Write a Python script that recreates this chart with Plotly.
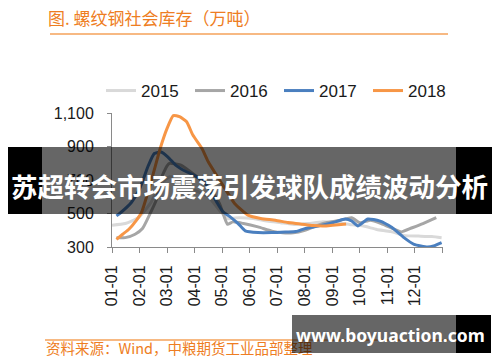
import calendar
import plotly.graph_objects as go

# ---------------- data ----------------
MONTH_LABELS = ["01-01", "02-01", "03-01", "04-01", "05-01", "06-01",
                "07-01", "08-01", "09-01", "10-01", "11-01", "12-01", ""]
Y_TICKS = [300, 500, 700, 900, 1100]
Y_TICK_TEXT = ["300", "500", "700", "900", "1,100"]

DATES_2015 = ["01-01", "01-16", "01-31", "02-12", "02-23", "03-04", "03-16", "04-01", "04-16",
              "04-28", "05-07", "05-20", "06-05", "06-20", "07-05", "07-20", "08-05", "08-20",
              "09-05", "09-20", "10-05", "10-20", "11-05", "11-20", "12-05", "12-20", "12-31"]
VALS_2015 = [430, 440, 476, 560, 680, 720, 700, 640, 600,
             520, 470, 475, 470, 455, 445, 435, 440, 450,
             445, 435, 425, 405, 392, 368, 365, 362, 355]

DATES_2016 = ["01-06", "01-16", "01-27", "02-04", "02-11", "02-18", "02-23", "03-01", "03-04",
              "03-16", "04-01", "04-16", "04-28", "05-04", "05-07", "05-13", "05-25", "06-10",
              "06-25", "07-07", "07-19", "08-01", "08-13", "08-25", "09-10", "09-22", "10-01",
              "10-13", "10-25", "11-07", "11-16", "11-28", "12-10", "12-25"]
VALS_2016 = [355, 356, 376, 410, 490, 580, 710, 785, 800,
             790, 730, 660, 560, 470, 435, 450, 440, 420,
             395, 385, 385, 400, 425, 445, 460, 475, 445,
             460, 440, 410, 390, 415, 440, 475]

DATES_2017 = ["01-06", "01-11", "01-23", "02-01", "02-10", "02-16", "02-23", "03-02", "03-11",
              "03-20", "04-01", "04-12", "04-23", "05-02", "05-10", "05-19", "05-27", "06-10",
              "06-25", "07-10", "07-22", "08-01", "08-17", "09-02", "09-15", "09-22", "09-29",
              "10-10", "10-23", "11-06", "11-19", "11-30", "12-15", "12-22", "12-31"]
VALS_2017 = [486, 506, 567, 647, 787, 858, 867, 837, 787,
             757, 727, 687, 587, 510, 480, 440, 396, 386,
             386, 390, 392, 410, 426, 446, 467, 456, 426,
             467, 456, 416, 356, 316, 300, 306, 326]

DATES_2018 = ["01-06", "01-13", "01-20", "01-28", "02-03", "02-13", "02-22", "03-01", "03-08",
              "03-15", "03-23", "03-30", "04-09", "04-16", "04-25", "05-04", "05-15", "05-30",
              "06-13", "06-29", "07-13", "07-27", "08-10", "08-25", "09-16"]
VALS_2018 = [346, 376, 406, 456, 506, 697, 888, 1008, 1084,
             1078, 1048, 968, 888, 807, 727, 650, 560, 490,
             470, 460, 446, 438, 428, 426, 437]

SERIES = [("2015", DATES_2015, VALS_2015, "#D9D9D9"),
          ("2016", DATES_2016, VALS_2016, "#A6A6A6"),
          ("2017", DATES_2017, VALS_2017, "#4A7FBF"),
          ("2018", DATES_2018, VALS_2018, "#F79646")]

TITLE = "图. 螺纹钢社会库存（万吨）"
SOURCE = "资料来源：Wind，中粮期货工业品部整理"
BANNER = "苏超转会市场震荡引发球队成绩波动分析"
WATERMARK = "www.boyuaction.com"


def month_pos(md):
    m, d = (int(v) for v in md.split("-"))
    days = calendar.monthrange(2018, m)[1]
    return (m - 1) + (d - 1) / days


# window is 500x362, the page body adds an 8px offset
WIN_W, WIN_H = 500, 362
OFF = 8
W, H = WIN_W - OFF, WIN_H - OFF


def px(x):
    return (x - OFF) / W


def py(y):
    return 1 - (y - OFF) / H


ORANGE = "#EE7D22"
RULE = "#F4A25A"
TXT = "#1a1a1a"
AX = "#8a8a8a"
FONT = "Liberation Sans, Arial, sans-serif"
CJK = "Noto Sans CJK SC, sans-serif"

fig = go.Figure()
for name, dates, vals, color in SERIES:
    fig.add_trace(go.Scatter(
        x=[month_pos(d) for d in dates], y=vals, name=name, mode="lines",
        line=dict(color=color, width=3, shape="spline", smoothing=0.5),
        cliponaxis=False, hoverinfo="skip"))

# overlay "pixel" subplot for decoration text under shapes
fig.add_trace(go.Scatter(
    x=[46], y=[350], xaxis="x2", yaxis="y2", mode="text", text=[SOURCE],
    textposition="middle right", showlegend=False, hoverinfo="skip",
    textfont=dict(family=CJK, size=14.5, color=ORANGE)))

fig.update_layout(
    width=W, height=H, autosize=False,
    margin=dict(l=0, r=0, t=0, b=0),
    paper_bgcolor="white", plot_bgcolor="rgba(0,0,0,0)",
    showlegend=True,
    legend=dict(orientation="h", x=px(101), xanchor="left", y=py(91), yanchor="middle",
                font=dict(family=FONT, size=17, color=TXT), bgcolor="rgba(0,0,0,0)",
                itemwidth=30, tracegroupgap=0, entrywidth=44, entrywidthmode="pixels"),
    xaxis=dict(domain=[px(112), px(442.5)], range=[0, 12], tickmode="array",
               tickvals=list(range(13)), ticktext=MONTH_LABELS, tickangle=-90,
               showline=True, linecolor=AX, linewidth=1, ticks="outside", ticklen=5,
               tickcolor=AX, showgrid=False, zeroline=False, automargin=False,
               ticklabelstandoff=6, tickfont=dict(family=FONT, size=16, color=TXT)),
    yaxis=dict(domain=[py(247), py(113)], range=[300, 1100], tickmode="array",
               tickvals=Y_TICKS, ticktext=Y_TICK_TEXT,
               showline=True, linecolor=AX, linewidth=1, ticks="outside", ticklen=4,
               tickcolor=AX, showgrid=False, zeroline=False, automargin=False,
               ticklabelstandoff=10, tickfont=dict(family=FONT, size=16, color=TXT)),
    xaxis2=dict(domain=[0, 1], range=[OFF, WIN_W], visible=False, anchor="y2", fixedrange=True),
    yaxis2=dict(domain=[0, 1], range=[WIN_H, OFF], visible=False, anchor="x2", fixedrange=True),
)

shapes = [
    # rules
    dict(type="line", x0=50, x1=448, y0=34, y1=34, line=dict(color=RULE, width=1.5), layer="below"),
    dict(type="line", x0=45, x1=448, y0=340, y1=340, line=dict(color=RULE, width=1.5), layer="below"),
    # banner
    dict(type="rect", x0=7, x1=42, y0=147, y1=214, fillcolor="black", line=dict(width=0), layer="above"),
    dict(type="rect", x0=42, x1=456, y0=147, y1=214, fillcolor="rgba(0,0,0,0.6)", line=dict(width=0), layer="above"),
    dict(type="rect", x0=456, x1=493, y0=147, y1=214, fillcolor="black", line=dict(width=0), layer="above"),
    # watermark box
    dict(type="rect", x0=292, x1=456, y0=315, y1=353, fillcolor="rgba(0,0,0,0.6)", line=dict(width=0), layer="above"),
    dict(type="rect", x0=456, x1=491, y0=315, y1=353, fillcolor="black", line=dict(width=0), layer="above"),
]
for s in shapes:
    s.update(xref="x2", yref="y2")
fig.update_layout(shapes=shapes)

fig.update_layout(annotations=[
    dict(x=46, y=17, xref="x2", yref="y2", text=TITLE, showarrow=False, xanchor="left",
         yanchor="middle", font=dict(family=CJK, size=17, color=ORANGE)),
    dict(x=249, y=185, xref="x2", yref="y2", text="<b>" + BANNER + "</b>", showarrow=False,
         xanchor="center", yanchor="middle", font=dict(family=CJK, size=26.5, color="white")),
    dict(x=390, y=335, xref="x2", yref="y2", text="<b>" + WATERMARK + "</b>", showarrow=False,
         xanchor="center", yanchor="middle", font=dict(family="Noto Sans, sans-serif", size=17.5, color="white")),
])

fig.write_html("out.html")
